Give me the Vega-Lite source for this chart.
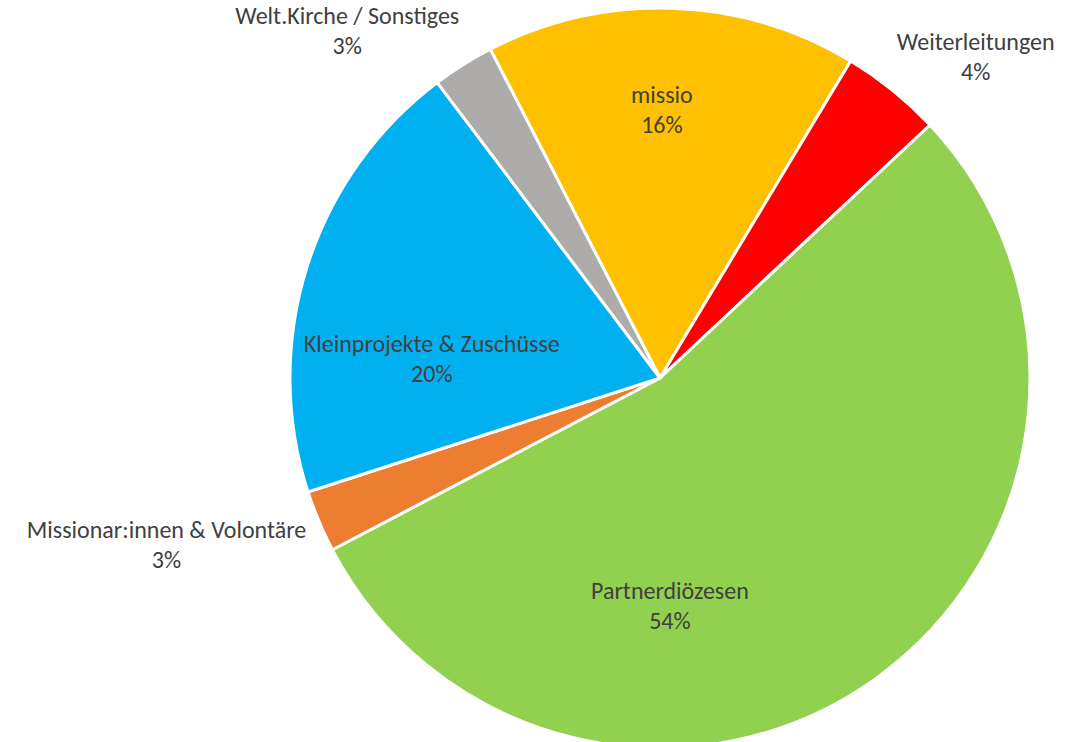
{
  "$schema": "https://vega.github.io/schema/vega-lite/v6.json",
  "width": 728,
  "height": 728,
  "autosize": {"type": "none"},
  "padding": {"left": 296, "top": 14, "right": 57, "bottom": 0},
  "background": "white",
  "config": {"view": {"stroke": null}},
  "data": {
    "values": [
      {"category": "missio", "value": 16.2, "pct": "16%", "rank": 1},
      {"category": "Weiterleitungen", "value": 4.4, "pct": "4%", "rank": 2},
      {"category": "Partnerdiözesen", "value": 54.3, "pct": "54%", "rank": 3},
      {"category": "Missionar:innen & Volontäre", "value": 2.7, "pct": "3%", "rank": 4},
      {"category": "Kleinprojekte & Zuschüsse", "value": 19.7, "pct": "20%", "rank": 5},
      {"category": "Welt.Kirche / Sonstiges", "value": 2.7, "pct": "3%", "rank": 6}
    ]
  },
  "transform": [
    {"stack": "value", "groupby": [], "sort": [{"field": "rank", "order": "ascending"}], "as": ["v0", "v1"]},
    {"calculate": "datum.category + '\\n' + datum.pct", "as": "label"}
  ],
  "encoding": {
    "theta": {"field": "v0", "type": "quantitative", "stack": null, "scale": {"domain": [0, 100], "range": [-0.47647, 5.80672]}}
  },
  "layer": [
    {
      "mark": {"type": "arc", "outerRadius": 370, "stroke": "white", "strokeWidth": 3},
      "encoding": {
        "theta2": {"field": "v1"},
        "color": {
          "field": "category",
          "type": "nominal",
          "scale": {
            "domain": ["missio", "Weiterleitungen", "Partnerdiözesen", "Missionar:innen & Volontäre", "Kleinprojekte & Zuschüsse", "Welt.Kirche / Sonstiges"],
            "range": ["#FFC000", "#FF0000", "#92D050", "#ED7D31", "#00B0F0", "#AEABAB"]
          },
          "legend": null
        }
      }
    },
    {
      "transform": [{"filter": "datum.rank == 1"}],
      "mark": {"type": "text", "radius": 268, "thetaOffset": 0.4835, "dy": -14, "align": "center", "baseline": "middle", "lineBreak": "\n", "lineHeight": 30, "font": "Carlito, Lato, sans-serif", "fontSize": 24, "color": "#404040"},
      "encoding": {"text": {"field": "label", "type": "nominal"}}
    },
    {
      "transform": [{"filter": "datum.rank == 2"}],
      "mark": {"type": "text", "radius": 450, "thetaOffset": 0.2361, "dy": -14, "align": "center", "baseline": "middle", "lineBreak": "\n", "lineHeight": 30, "font": "Carlito, Lato, sans-serif", "fontSize": 24, "color": "#404040"},
      "encoding": {"text": {"field": "label", "type": "nominal"}}
    },
    {
      "transform": [{"filter": "datum.rank == 3"}],
      "mark": {"type": "text", "radius": 228, "thetaOffset": 2.2801, "dy": -14, "align": "center", "baseline": "middle", "lineBreak": "\n", "lineHeight": 30, "font": "Carlito, Lato, sans-serif", "fontSize": 24, "color": "#404040"},
      "encoding": {"text": {"field": "label", "type": "nominal"}}
    },
    {
      "transform": [{"filter": "datum.rank == 4"}],
      "mark": {"type": "text", "radius": 521, "thetaOffset": 0.1564, "dy": -14, "align": "center", "baseline": "middle", "lineBreak": "\n", "lineHeight": 30, "font": "Carlito, Lato, sans-serif", "fontSize": 24, "color": "#404040"},
      "encoding": {"text": {"field": "label", "type": "nominal"}}
    },
    {
      "transform": [{"filter": "datum.rank == 5"}],
      "mark": {"type": "text", "radius": 229, "thetaOffset": 0.3969, "dy": -14, "align": "center", "baseline": "middle", "lineBreak": "\n", "lineHeight": 30, "font": "Carlito, Lato, sans-serif", "fontSize": 24, "color": "#404040"},
      "encoding": {"text": {"field": "label", "type": "nominal"}}
    },
    {
      "transform": [{"filter": "datum.rank == 6"}],
      "mark": {"type": "text", "radius": 467, "thetaOffset": -0.0878, "dy": -14, "align": "center", "baseline": "middle", "lineBreak": "\n", "lineHeight": 30, "font": "Carlito, Lato, sans-serif", "fontSize": 24, "color": "#404040"},
      "encoding": {"text": {"field": "label", "type": "nominal"}}
    }
  ]
}
